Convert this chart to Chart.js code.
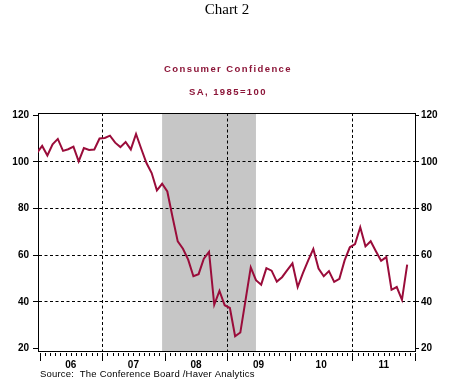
<!DOCTYPE html>
<html>
<head>
<meta charset="utf-8">
<title>Chart 2</title>
<script src="https://cdn.jsdelivr.net/npm/chart.js@4.4.1/dist/chart.umd.min.js"></script>
<style>
  html, body { margin: 0; padding: 0; background: #fff; }
  #chart { display: block; }
</style>
</head>
<body>
<canvas id="chart" width="459" height="385"></canvas>
<script>
(function () {
  'use strict';

  // monthly index, Dec 2005 through Nov 2011 (SA, 1985=100)
  var confidence = [
    103.8,
    106.8, 102.7, 107.5, 109.8, 104.7, 105.4, 106.5, 100.2, 105.9, 105.1, 105.3, 110.0,
    110.2, 111.2, 108.2, 106.3, 108.5, 105.3, 111.9, 105.6, 99.5, 95.2, 87.8, 90.6,
    87.3, 76.4, 65.9, 62.8, 58.1, 51.0, 51.9, 58.5, 61.4, 38.8, 44.7, 38.6,
    37.4, 25.3, 26.9, 40.8, 54.8, 49.3, 47.4, 54.5, 53.4, 48.7, 50.6, 53.6,
    56.5, 46.4, 52.3, 57.7, 62.7, 54.3, 51.0, 53.2, 48.6, 49.9, 57.8, 63.4,
    64.8, 72.0, 63.8, 66.0, 61.7, 57.6, 59.2, 45.2, 46.4, 40.9, 56.0
  ];
  var firstMonth = -0.5;          // Dec 2005, year boundaries fall on multiples of 12
  var yearLabels = ['06', '07', '08', '09', '10', '11'];
  var yTicks = [20, 40, 60, 80, 100, 120];
  var dashedYears = [12, 36, 60]; // 2007, 2009, 2011
  var recession = [23.5, 41.5];   // Dec 2007 - Jun 2009

  var MAROON = '#9a0c3a';
  var TITLE_RED = '#8c1538';
  var DASH = [3, 2.5];

  var points = confidence.map(function (v, i) {
    return { x: firstMonth + i, y: v };
  });

  var axisFont = { family: 'Liberation Sans, Arial, sans-serif', size: 10, weight: 'bold' };

  var decorations = {
    id: 'decorations',
    beforeDraw: function (c) {
      var ctx = c.ctx;
      var a = c.chartArea;
      var x = c.scales.x;
      var x0 = x.getPixelForValue(recession[0]);
      var x1 = x.getPixelForValue(recession[1]);
      ctx.save();
      ctx.fillStyle = '#c6c6c6';
      ctx.fillRect(x0, a.top, x1 - x0, a.bottom - a.top);
      ctx.restore();
    },
    afterDraw: function (c) {
      var ctx = c.ctx;
      var a = c.chartArea;
      var x = c.scales.x;
      ctx.save();
      ctx.strokeStyle = '#000';
      ctx.lineWidth = 1;
      ctx.beginPath();
      ctx.moveTo(a.left, Math.round(a.top) + 0.5);
      ctx.lineTo(a.right, Math.round(a.top) + 0.5);
      // month ticks under the frame, long ones at year ends
      for (var m = 0; m <= yearLabels.length * 12; m++) {
        var px = Math.round(x.getPixelForValue(m)) + 0.5;
        var len = m % 12 === 0 ? 8 : 3;
        ctx.moveTo(px, a.bottom + 2);
        ctx.lineTo(px, a.bottom + 2 + len);
      }
      ctx.stroke();

      ctx.textAlign = 'center';
      ctx.textBaseline = 'middle';
      ctx.fillStyle = '#000';
      ctx.font = '15px "Liberation Serif", "Times New Roman", serif';
      ctx.fillText('Chart 2', 227, 10);

      ctx.fillStyle = TITLE_RED;
      ctx.font = 'bold 9.5px "Liberation Sans", Arial, sans-serif';
      ctx.letterSpacing = '1.4px';
      ctx.fillText('Consumer Confidence', 228, 69);
      ctx.fillText('SA, 1985=100', 228, 92);

      ctx.fillStyle = '#000';
      ctx.textAlign = 'left';
      ctx.textBaseline = 'alphabetic';
      ctx.font = '9.5px "Liberation Sans", Arial, sans-serif';
      ctx.letterSpacing = '0.2px';
      ctx.fillText('Source:  The Conference Board /Haver Analytics', 40, 377);
      ctx.restore();
    }
  };

  function setTicks(values) {
    return function (scale) {
      scale.ticks = values.map(function (v) { return { value: v }; });
    };
  }

  var xTickValues = [];
  for (var t = 0; t <= yearLabels.length * 12; t += 6) xTickValues.push(t);

  var yCommon = {
    type: 'linear',
    min: 19,
    max: 120.9,
    afterBuildTicks: setTicks(yTicks),
    ticks: { font: axisFont, color: '#000' }
  };

  new Chart(document.getElementById('chart'), {
    type: 'line',
    plugins: [decorations],
    data: {
      datasets: [{
        data: points,
        borderColor: MAROON,
        borderWidth: 2,
        pointRadius: 0,
        tension: 0,
        fill: false,
        clip: 0
      }]
    },
    options: {
      responsive: false,
      animation: false,
      devicePixelRatio: 1,
      layout: { padding: { top: 113, left: 0, right: 0, bottom: 0 } },
      plugins: {
        legend: { display: false },
        tooltip: { enabled: false }
      },
      scales: {
        x: {
          type: 'linear',
          min: -0.3,
          max: 72,
          afterBuildTicks: setTicks(xTickValues),
          afterFit: function (s) { s.height = 34; },
          border: { display: true, color: '#000', width: 1, dash: DASH },
          grid: {
            drawTicks: false,
            color: function (ctx) {
              return ctx.tick && dashedYears.indexOf(ctx.tick.value) >= 0 ? '#000' : 'rgba(0,0,0,0)';
            }
          },
          ticks: {
            font: axisFont,
            color: '#000',
            padding: 8,
            maxRotation: 0,
            autoSkip: false,
            callback: function (v) {
              return v % 12 === 6 ? yearLabels[(v - 6) / 12] : '';
            }
          }
        },
        y: Object.assign({}, yCommon, {
          position: 'left',
          afterFit: function (s) { s.width = 38; },
          border: { display: true, color: '#000', width: 1, dash: DASH },
          grid: {
            tickLength: 5,
            tickColor: '#000',
            tickBorderDash: [],
            color: function (ctx) {
              var v = ctx.tick && ctx.tick.value;
              return v > 20 && v < 120 ? '#000' : 'rgba(0,0,0,0)';
            }
          },
          ticks: { font: axisFont, color: '#000', padding: 4 }
        }),
        y2: Object.assign({}, yCommon, {
          position: 'right',
          afterFit: function (s) { s.width = 44; },
          border: { display: true, color: '#000', width: 1 },
          grid: {
            drawOnChartArea: false,
            tickLength: 4,
            tickColor: '#000',
            color: '#000'
          },
          ticks: { font: axisFont, color: '#000', padding: 2 }
        })
      }
    }
  });
})();
</script>
</body>
</html>
